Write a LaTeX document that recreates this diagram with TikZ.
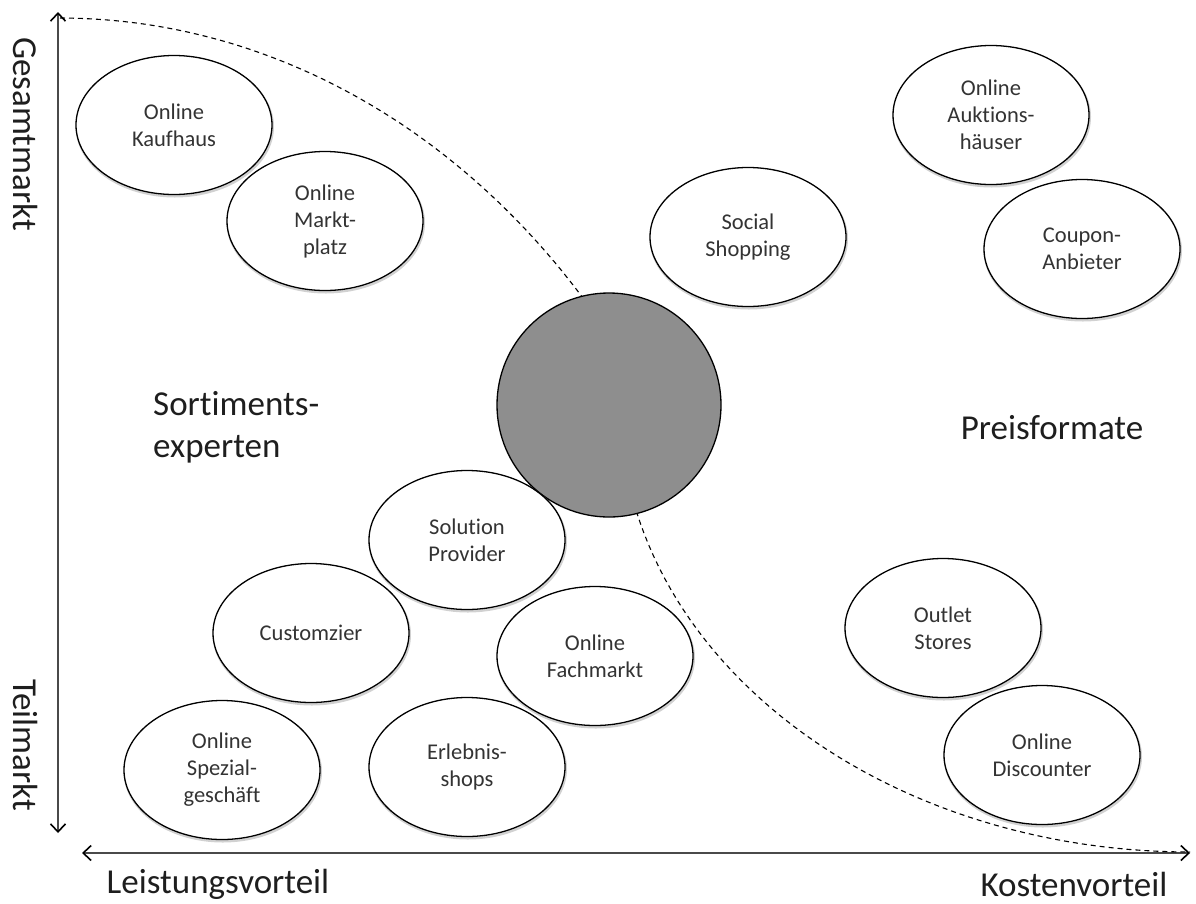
\documentclass[tikz,border=0pt]{standalone}
\usepackage{fontspec}
\setmainfont{Carlito}[Ligatures=NoCommon]
\usetikzlibrary{shapes.geometric,arrows.meta}
\definecolor{axisgray}{HTML}{4A4A4A}
\definecolor{discgray}{HTML}{8E8E8E}
\definecolor{labeltext}{HTML}{1E1E1E}
\definecolor{formtext}{HTML}{333333}
\tikzset{
  format/.style={ellipse, draw=black, fill=white, line width=1.3pt,
    minimum width=196pt, minimum height=139pt, inner sep=0pt,
    align=center, text=formtext,
    font=\fontsize{22.5}{27}\selectfont,
    preaction={draw=black!18, line width=2.4pt,
      transform canvas={xshift=0.8pt, yshift=-1.8pt}}},
  axislabel/.style={text=labeltext, font=\fontsize{35}{42}\selectfont, inner sep=0pt},
  axisline/.style={draw=axisgray, line width=1.6pt,
    {Straight Barb[length=8pt,width=15pt,line width=1.6pt,black]}-{Straight Barb[length=8pt,width=15pt,line width=1.6pt,black]}},
  border/.style={dashed, line width=1.1pt, dash pattern=on 5pt off 4pt}
}
\begin{document}
\begin{tikzpicture}[x=1pt, y=-1pt]
\path[use as bounding box] (0,0) rectangle (1196,903);

% axes
\coordinate (ytop) at (58,12);
\coordinate (ybot) at (58,833);
\coordinate (xleft) at (82,853);
\coordinate (xright) at (1190,853);
\draw[axisline] (ytop) -- (ybot);
\draw[axisline] (xleft) -- (xright);

% dashed separation line between the two groups
\draw[border] plot[domain=90:38, samples=60, variable=\t]
  ({60+700*cos(\t)}, {853-835*sin(\t)});
\draw[border] plot[domain=180:270, samples=60, variable=\t]
  ({1190+570*cos(\t)}, {405-447*sin(\t)});

% central disc
\node[circle, draw=black, line width=1.3pt, fill=discgray,
  minimum size=224pt, inner sep=0pt] (core) at (609,405) {};

% axis labels
\node[axislabel, rotate=-90] (gesamt) at (26,134) {Gesamtmarkt};
\node[axislabel, rotate=-90] (teil) at (26,745) {Teilmarkt};
\node[axislabel] (leistung) at (218,884) {Leistungsvorteil};
\node[axislabel] (kosten) at (1074,884) {Kostenvorteil};
\node[axislabel, align=left, anchor=west] (sortiment) at (153,427) {Sortiments-\\experten};
\node[axislabel] (preis) at (1052,428) {Preisformate};

% business formats
\node[format] (kaufhaus)   at (174,125) {Online\\Kaufhaus};
\node[format] (marktplatz) at (325,221) {Online\\Markt-\\platz};
\node[format] (social)     at (748,237) {Social\\Shopping};
\node[format] (auktion)    at (991,115) {Online\\Auktions-\\häuser};
\node[format] (coupon)     at (1082,249) {Coupon-\\Anbieter};
\node[format] (solution)   at (467,540) {Solution\\Provider};
\node[format] (custom)     at (311,633) {Customzier};
\node[format] (fachmarkt)  at (595,656) {Online\\Fachmarkt};
\node[format] (spezial)    at (222,770) {Online\\Spezial-\\geschäft};
\node[format] (erlebnis)   at (467,767) {Erlebnis-\\shops};
\node[format] (outlet)     at (943,628) {Outlet\\Stores};
\node[format] (discounter) at (1042,755) {Online\\Discounter};
\end{tikzpicture}
\end{document}
